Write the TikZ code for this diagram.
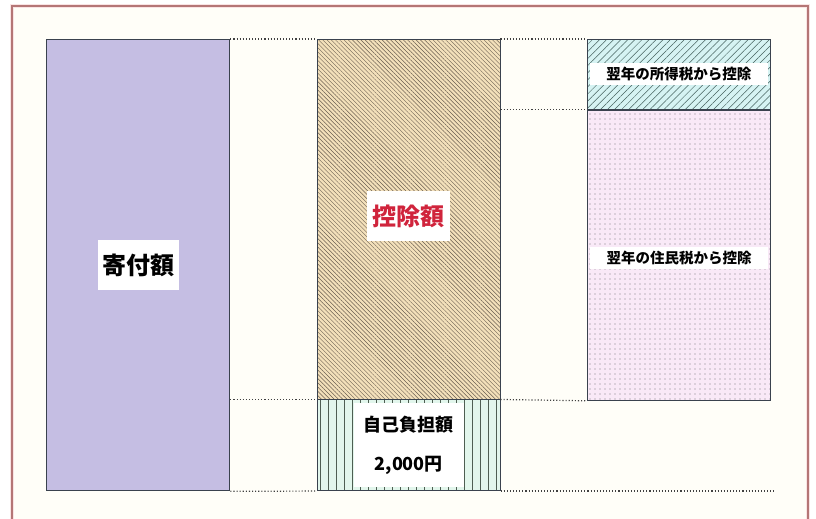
\documentclass[tikz,border=0pt]{standalone}
\usepackage{fontspec}
\newfontfamily\jp{Noto Sans CJK JP}
\usetikzlibrary{patterns.meta}
\definecolor{paper}{HTML}{FFFEF8}
\definecolor{frameline}{HTML}{B57676}
\definecolor{frameglow}{HTML}{F9E4E4}
\definecolor{barline}{HTML}{3A424E}
\definecolor{kifufill}{HTML}{C5BEE3}
\definecolor{kojofill}{HTML}{F3E0BA}
\definecolor{kojoline}{HTML}{6A5E50}
\definecolor{jikofill}{HTML}{E2F6EC}
\definecolor{jikoline}{HTML}{4E5E52}
\definecolor{shotokufill}{HTML}{D6F3F3}
\definecolor{shotokuline}{HTML}{46625F}
\definecolor{juminfill}{HTML}{F9E9F7}
\definecolor{jumindot}{HTML}{7E7A82}
\definecolor{kojored}{HTML}{D0243C}
\newcommand\jpfont[1]{\jp\bfseries\fontsize{#1}{#1}\selectfont}
\tikzset{
  bar/.style={draw=barline, line width=1.3pt, inner sep=0pt, anchor=north west,
    minimum width=183pt},
  tag/.style={fill=white, inner sep=0pt},
  guide/.style={draw=black!75, line width=1.2pt, dash pattern=on 1.1pt off 2pt}
}
\begin{document}
\begin{tikzpicture}[x=1pt,y=-1pt]
\useasboundingbox (0,0) rectangle (816,519);
\fill[paper] (12,6) rectangle (808,519);
\draw[frameglow, line width=4pt] (12,6) rectangle (808,560);
\draw[frameline, line width=1.2pt] (12,6) rectangle (808,560);
% bars
\node[bar, fill=kifufill, minimum height=451pt] (kifu) at (46,39) {};
\node[bar, minimum height=360pt, preaction={fill=kojofill},
  pattern={Lines[angle=-45,distance=3pt,line width=0.45pt]},
  pattern color=kojoline] (kojo) at (317,39) {};
\node[bar, minimum height=91pt, preaction={fill=jikofill},
  pattern={Lines[angle=90,distance=8pt,line width=0.6pt]},
  pattern color=jikoline] (jiko) at (kojo.south west) {};
\node[bar, minimum height=70pt, preaction={fill=shotokufill},
  pattern={Lines[angle=45,distance=5pt,line width=0.5pt]},
  pattern color=shotokuline] (shotoku) at (587,39) {};
\node[bar, minimum height=290pt, preaction={fill=juminfill},
  pattern={Dots[distance=5pt,radius=0.65pt]},
  pattern color=jumindot] (jumin) at (shotoku.south west) {};
% labels
\node[tag, minimum width=81pt, minimum height=50pt, font=\jpfont{24}]
  (kifutxt) at (kifu.center) {寄付額};
\node[tag, minimum width=83pt, minimum height=50pt, font=\jpfont{24},
  text=kojored] (kojotxt) at ([yshift=3pt]kojo.center) {控除額};
\node[tag, minimum width=110pt, minimum height=84pt, font=\jpfont{18},
  align=center] (jikotxt) at (jiko.center) {自己負担額\\[21pt]2,000円};
\node[tag, minimum width=178pt, minimum height=22pt, font=\jpfont{14.5}]
  (shotokutxt) at (shotoku.center) {翌年の所得税から控除};
\node[tag, minimum width=178pt, minimum height=22pt, font=\jpfont{14.5}]
  (jumintxt) at ([yshift=-3pt]jumin.center) {翌年の住民税から控除};
% dotted guides
\coordinate (tail) at ([xshift=3pt]jumin.east |- jiko.south);
\draw[guide] (kifu.north east) -- (kojo.north west);
\draw[guide] (kojo.north east) -- (shotoku.north west);
\draw[guide] (kojo.east |- shotoku.south) -- (shotoku.south west);
\draw[guide] (kifu.east |- kojo.south) -- (kojo.south west);
\draw[guide] (kojo.south east) -- (jumin.south west);
\draw[guide] (kifu.south east) -- (jiko.south west);
\draw[guide] (jiko.south east) -- (tail);
\end{tikzpicture}
\end{document}
